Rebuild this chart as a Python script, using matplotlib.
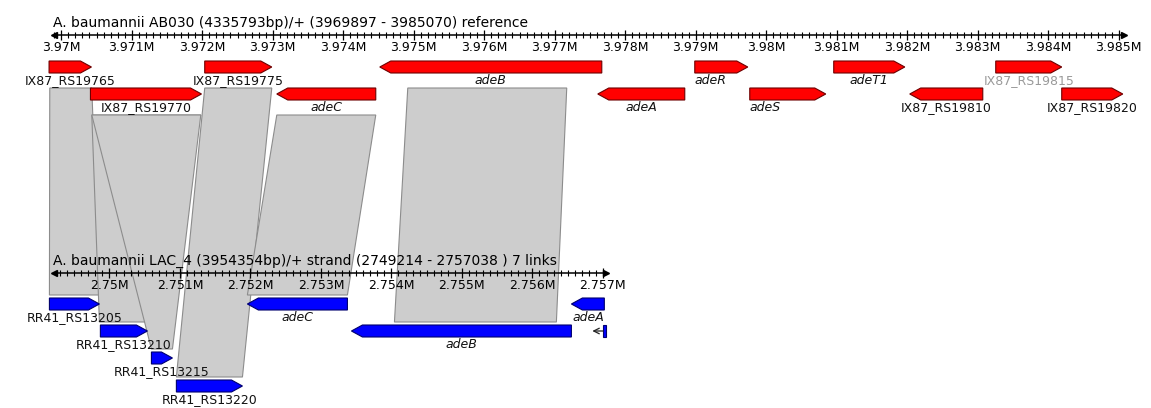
import numpy as np
import matplotlib.pyplot as plt
from matplotlib.patches import Polygon
from matplotlib.ticker import FixedLocator, FuncFormatter

# reference track: A. baumannii AB030
top_title = "A. baumannii AB030 (4335793bp)/+ (3969897 - 3985070) reference"
top_range = (3969897, 3985070)
top_names = ["IX87_RS19765", "IX87_RS19770", "IX87_RS19775", "adeC", "adeB", "adeA",
             "adeR", "adeS", "adeT1", "IX87_RS19810", "IX87_RS19815", "IX87_RS19820"]
top_starts = [3969827, 3970414, 3972035, 3973057, 3974518, 3977610,
              3978986, 3979766, 3980957, 3982035, 3983255, 3984191]
top_ends = [3970428, 3971989, 3972986, 3974461, 3977667, 3978844,
            3979738, 3980844, 3981965, 3983071, 3984191, 3985057]
top_strand = [1, 1, 1, -1, -1, -1, 1, 1, 1, -1, 1, 1]
top_row = [0, 1, 0, 1, 0, 1, 0, 1, 0, 1, 0, 1]

# query track: A. baumannii LAC_4
bot_title = "A. baumannii LAC_4 (3954354bp)/+ strand (2749214 - 2757038 ) 7 links"
bot_range = (2749214, 2757038)
bot_names = ["RR41_RS13205", "RR41_RS13210", "RR41_RS13215", "RR41_RS13220",
             "adeC", "adeB", "adeA"]
bot_starts = [2749149, 2749872, 2750596, 2750950, 2751957, 2753433, 2756553]
bot_ends = [2749858, 2750539, 2750894, 2751887, 2753376, 2756553, 2757020]
bot_strand = [1, 1, 1, 1, -1, -1, -1]
bot_row = [0, 1, 2, 3, 0, 1, 0]
bot_clipped = (2757000, 2757038)   # gene running off the right end, reverse strand

# homology links: reference range <-> query range
link_top = [(3969837, 3970433), (3970433, 3971979), (3970433, 3971979),
            (3972035, 3972986), (3973057, 3974461), (3974915, 3977170)]
link_bot = [(2749149, 2749858), (2749858, 2750525), (2750596, 2750894),
            (2750950, 2751887), (2751957, 2753376), (2754043, 2756340)]
link_top_row = [0, 1, 1, 0, 1, 0]
link_bot_row = [0, 1, 2, 3, 0, 1]

# layout (pixels, y measured from top)
W, H, DPI = 1151, 408, 100
PX_PER_BP = 0.0705
X0 = 54
TOP_RULER_Y, BOT_RULER_Y = 35, 273
TOP_ROWS = [67, 94]
BOT_ROWS = [304, 331, 358, 386]
HALF = 6
HEAD_PX = 11

plt.rcParams['font.family'] = ['DejaVu Sans']

fig = plt.figure(figsize=(W / DPI, H / DPI), dpi=DPI)
fig.patch.set_facecolor('white')
ax_top = fig.add_axes([0, 0, 1, 1])
ax_bot = fig.add_axes([0, 0, 1, 1])


def ruler(ax, start, end, y, title):
    ax.set_xlim(start - X0 / PX_PER_BP, start + (W - X0) / PX_PER_BP)
    ax.set_ylim(H, 0)
    ax.patch.set_visible(False)
    for side in ('left', 'right', 'top'):
        ax.spines[side].set_visible(False)
    ax.set_yticks([])
    sp = ax.spines['bottom']
    sp.set_position(('data', y))
    sp.set_bounds(start, end)
    sp.set_linewidth(1.1)
    ax.xaxis.set_major_locator(FixedLocator(np.arange(np.ceil(start / 1000) * 1000, end + 1, 1000)))
    ax.xaxis.set_minor_locator(FixedLocator(np.arange(np.ceil(start / 100) * 100, end + 1, 100)))
    ax.xaxis.set_major_formatter(FuncFormatter(lambda v, p: f"{v / 1e6:g}M"))
    ax.tick_params(axis='x', which='major', direction='inout', length=7, width=0.9,
                   labelsize=9, pad=1, colors='black')
    ax.tick_params(axis='x', which='minor', direction='inout', length=4.5, width=0.8)
    ax.plot([start], [y], marker='<', color='black', ms=5, clip_on=False)
    ax.plot([end], [y], marker='>', color='black', ms=5, clip_on=False)
    ax.text(start - 1 / PX_PER_BP, y - 12, title, fontsize=10, ha='left', va='center')


def gene(ax, s, e, strand, yc, face, edge):
    head = min(HEAD_PX / PX_PER_BP, e - s)
    if strand > 0:
        pts = [(s, yc - HALF), (e - head, yc - HALF), (e, yc), (e - head, yc + HALF), (s, yc + HALF)]
    else:
        pts = [(e, yc - HALF), (s + head, yc - HALF), (s, yc), (s + head, yc + HALF), (e, yc + HALF)]
    ax.add_patch(Polygon(pts, closed=True, facecolor=face, edgecolor=edge, lw=0.8, zorder=3))


def label(ax, s, e, yc, name, color='#111111', ha='center'):
    x = (s + e) / 2 if ha == 'center' else s
    style = 'italic' if name.startswith('ade') else 'normal'
    ax.text(x, yc + 13.5, name, fontsize=9, ha=ha, va='center', style=style, color=color, zorder=4)


ruler(ax_top, *top_range, TOP_RULER_Y, top_title)
ruler(ax_bot, *bot_range, BOT_RULER_Y, bot_title)

# links, drawn in reference-axes coordinates underneath everything
bot_to_top = ax_bot.transData + ax_top.transData.inverted()
for (ts, te), (bs, be), tr, br in zip(link_top, link_bot, link_top_row, link_bot_row):
    ty = TOP_ROWS[tr] + 21
    by = BOT_ROWS[br] - 9
    p_bs = bot_to_top.transform((bs, by))
    p_be = bot_to_top.transform((be, by))
    pts = [(ts, ty), (te, ty), tuple(p_be), tuple(p_bs)]
    ax_top.add_patch(Polygon(pts, closed=True, facecolor='#cdcdcd', edgecolor='#8c8c8c',
                             lw=0.8, zorder=1))

for i, name in enumerate(top_names):
    yc = TOP_ROWS[top_row[i]]
    gene(ax_top, top_starts[i], top_ends[i], top_strand[i], yc, '#ff0000', '#6e0000')
    color = '#9a9a9a' if name == 'IX87_RS19815' else '#111111'
    ha = 'left' if name in ('adeR', 'adeS') else 'center'
    label(ax_top, top_starts[i], top_ends[i], yc, name, color, ha)

for i, name in enumerate(bot_names):
    yc = BOT_ROWS[bot_row[i]]
    gene(ax_bot, bot_starts[i], bot_ends[i], bot_strand[i], yc, '#0000ff', '#00006e')
    label(ax_bot, bot_starts[i], bot_ends[i], yc, name)

# clipped gene at the right end of the query track
cs, ce = bot_clipped
yc = BOT_ROWS[1]
ax_bot.add_patch(Polygon([(cs, yc - HALF), (ce, yc - HALF), (ce, yc + HALF), (cs, yc + HALF)],
                         closed=True, facecolor='#0000ff', edgecolor='#00006e', lw=0.8, zorder=3))
ax_bot.annotate('', xy=(cs - 150, yc), xytext=(cs, yc),
                arrowprops=dict(arrowstyle='->', lw=0.9, color='#222222', shrinkA=0, shrinkB=0))

fig.savefig('out.png', dpi=DPI, facecolor='white')
